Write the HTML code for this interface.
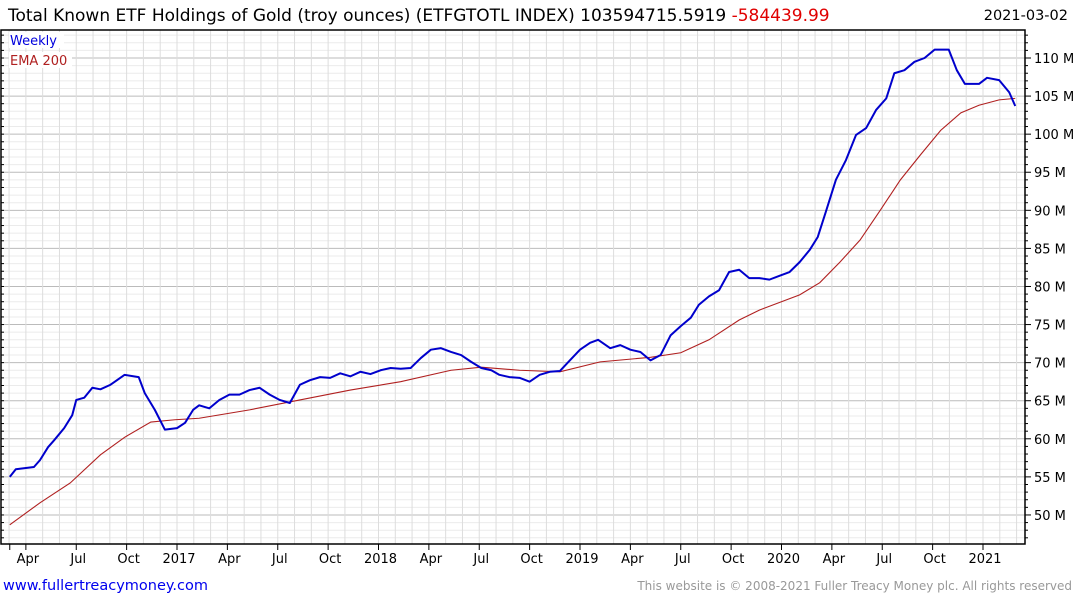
<!DOCTYPE html>
<html><head><meta charset="utf-8"><style>
body{margin:0;background:#fff;font-family:"Liberation Sans","DejaVu Sans",sans-serif}
svg text{font-family:"DejaVu Sans","Liberation Sans",sans-serif}
</style></head><body>
<svg id="c" width="1075" height="600" viewBox="0 0 1075 600">
<text x="8" y="21" font-size="17" fill="#000">Total Known ETF Holdings of Gold (troy ounces) (ETFGTOTL INDEX) 103594715.5919 <tspan fill="#e00000">-584439.99</tspan></text>
<text x="1068" y="20" font-size="14.5" text-anchor="end" fill="#000">2021-03-02</text>
<g id="grid"></g>
<g id="series"></g>
<rect x="1" y="30" width="1024" height="514" fill="none" stroke="#000" stroke-width="1.5"/>
<g id="axes"></g>
<rect x="9" y="32" width="55" height="16" fill="#fff"/>
<text x="10" y="45" font-size="13" fill="#0000dd">Weekly</text>
<rect x="9" y="52" width="63" height="16" fill="#fff"/>
<text x="10" y="65" font-size="13" fill="#b02020">EMA 200</text>
<text x="3" y="590" font-size="14.5" fill="#0000ee">www.fullertreacymoney.com</text>
<text x="1072" y="590" font-size="12" text-anchor="end" fill="#999">This website is © 2008-2021 Fuller Treacy Money plc. All rights reserved</text>
</svg>
<script>
const weeklyT=[2016.17,2016.20,2016.29,2016.32,2016.36,2016.39,2016.44,2016.48,2016.50,2016.54,2016.58,2016.62,2016.67,2016.74,2016.81,2016.84,2016.89,2016.94,2017.00,2017.04,2017.08,2017.11,2017.16,2017.21,2017.26,2017.31,2017.36,2017.41,2017.46,2017.51,2017.56,2017.61,2017.66,2017.71,2017.76,2017.81,2017.86,2017.91,2017.96,2018.01,2018.06,2018.11,2018.16,2018.21,2018.26,2018.31,2018.36,2018.41,2018.46,2018.51,2018.56,2018.60,2018.65,2018.70,2018.75,2018.80,2018.85,2018.90,2018.95,2019.00,2019.05,2019.09,2019.15,2019.20,2019.25,2019.30,2019.35,2019.40,2019.45,2019.50,2019.55,2019.59,2019.64,2019.69,2019.74,2019.79,2019.84,2019.89,2019.94,2019.99,2020.04,2020.09,2020.14,2020.18,2020.22,2020.27,2020.32,2020.37,2020.42,2020.47,2020.52,2020.56,2020.61,2020.66,2020.71,2020.76,2020.83,2020.87,2020.91,2020.98,2021.02,2021.08,2021.13,2021.16];
const weeklyV=[55.0,56.0,56.3,57.2,58.9,59.8,61.4,63.1,65.1,65.4,66.7,66.5,67.1,68.4,68.1,66.0,63.8,61.2,61.4,62.1,63.8,64.4,64.0,65.1,65.8,65.8,66.4,66.7,65.8,65.1,64.7,67.1,67.7,68.1,68.0,68.6,68.2,68.8,68.5,69.0,69.3,69.2,69.3,70.6,71.7,71.9,71.4,71.0,70.1,69.3,69.0,68.4,68.1,68.0,67.5,68.4,68.8,68.9,70.3,71.7,72.6,73.0,71.9,72.3,71.7,71.4,70.3,71.0,73.6,74.8,75.9,77.6,78.7,79.5,81.9,82.2,81.1,81.1,80.9,81.4,81.9,83.2,84.8,86.5,89.8,94.0,96.6,99.9,100.8,103.2,104.7,108.0,108.4,109.5,110.0,111.1,111.1,108.4,106.6,106.6,107.4,107.1,105.5,103.7];
const emaT=[2016.17,2016.32,2016.47,2016.62,2016.74,2016.87,2016.99,2017.11,2017.36,2017.61,2017.86,2018.11,2018.36,2018.51,2018.70,2018.90,2019.10,2019.35,2019.50,2019.64,2019.79,2019.89,2020.09,2020.19,2020.29,2020.39,2020.49,2020.59,2020.69,2020.79,2020.89,2020.98,2021.08,2021.16];
const emaV=[48.7,51.6,54.2,57.9,60.2,62.2,62.5,62.7,63.8,65.1,66.4,67.5,69.0,69.4,69.0,68.8,70.1,70.7,71.3,73.0,75.6,76.9,78.9,80.5,83.2,86.1,90.0,94.0,97.3,100.5,102.8,103.8,104.5,104.7];
const yTicks=[50,55,60,65,70,75,80,85,90,95,100,105,110];
const xLabels=["Apr","Jul","Oct","2017","Apr","Jul","Oct","2018","Apr","Jul","Oct","2019","Apr","Jul","Oct","2020","Apr","Jul","Oct","2021"];
const xLabelT=[2016.25,2016.5,2016.75,2017,2017.25,2017.5,2017.75,2018,2018.25,2018.5,2018.75,2019,2019.25,2019.5,2019.75,2020,2020.25,2020.5,2020.75,2021];

const NS="http://www.w3.org/2000/svg";
const X=t=>177+(t-2017)*201.5;
const Y=v=>58+(110-v)*7.616;
function mk(tag,attrs,parent){const e=document.createElementNS(NS,tag);for(const k in attrs)e.setAttribute(k,attrs[k]);parent.appendChild(e);return e;}
const grid=document.getElementById('grid'),axes=document.getElementById('axes'),ser=document.getElementById('series');
for(let v=47;v<=113;v++){
  const maj=v%5===0;
  const l=mk('line',{x1:1,x2:1025,y1:Y(v),y2:Y(v),stroke:maj?'#bbb':'#ebebeb','stroke-width':1},grid);
  
  
  const tk=mk('line',{x1:1025,x2:maj?1031:1028,y1:Y(v),y2:Y(v),stroke:'#000'},axes);
  
  
  const tl=mk('line',{x1:1,x2:4,y1:Y(v),y2:Y(v),stroke:'#000'},axes);
  
  
}
for(let i=0;i<62;i++){
  const t=2016+2/12+i/12;const x=X(t);if(x<2||x>1024)continue;
  const l=mk('line',{x1:x,x2:x,y1:30,y2:544,stroke:'#ddd'},grid);
  
  
}
yTicks.forEach(v=>{
  const t=mk('text',{x:1034,y:Y(v)+5,'font-size':13,fill:'#000'},axes);
  t.textContent=v+' M';
  
  
});
const ft=mk('line',{x1:X(2016.17),x2:X(2016.17),y1:544,y2:550,stroke:'#000'},axes);


xLabels.forEach((s,i)=>{
  const x=X(xLabelT[i]);
  const tk=mk('line',{x1:x,x2:x,y1:544,y2:550,stroke:'#000'},axes);
  
  
  const t=mk('text',{x:x+2,y:563,'font-size':13,'text-anchor':'middle',fill:'#000'},axes);
  t.textContent=s;
  
  
});
const ema=mk('polyline',{points:emaT.map((t,i)=>X(t)+','+Y(emaV[i])).join(' '),fill:'none',stroke:'#b02020','stroke-width':1.1},ser);


const wk=mk('polyline',{points:weeklyT.map((t,i)=>X(t)+','+Y(weeklyV[i])).join(' '),fill:'none',stroke:'#0000cc','stroke-width':2,'stroke-linejoin':'round'},ser);


</script>
</body></html>
